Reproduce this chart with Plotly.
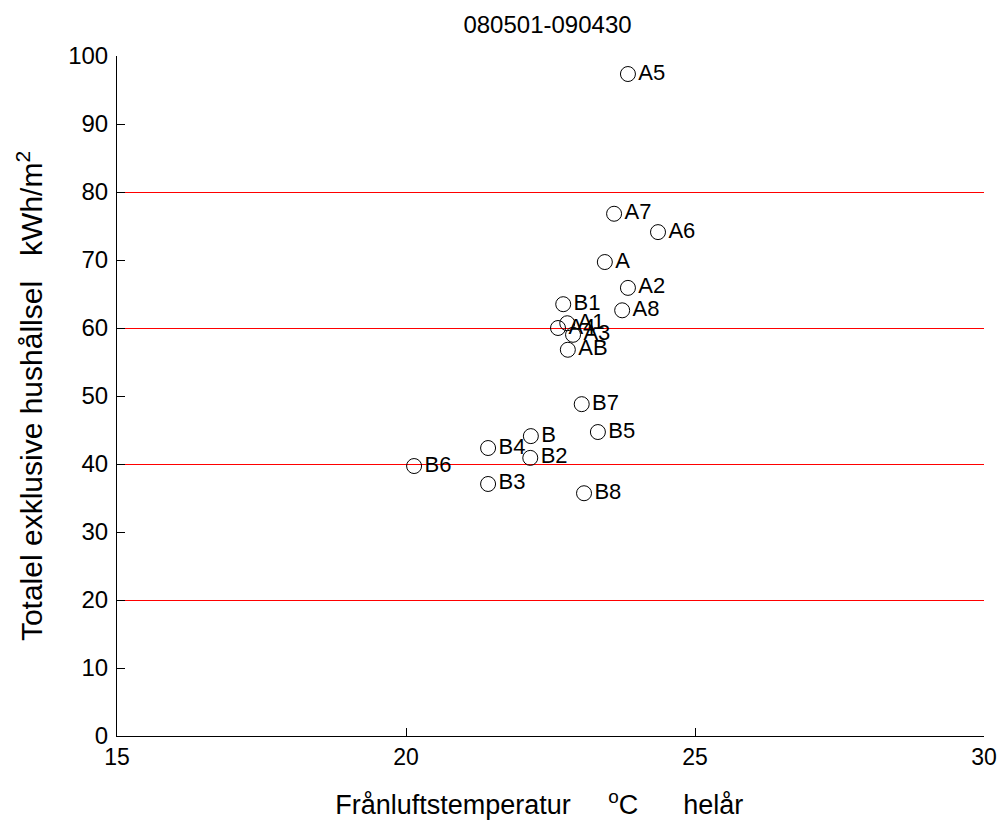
import plotly.graph_objects as go

labels = ["A5", "A7", "A6", "A", "A2", "A8", "B1", "A1", "A4", "A3", "AB",
          "B7", "B5", "B", "B4", "B2", "B6", "B3", "B8"]
temp = [23.84, 23.60, 24.36, 23.44, 23.84, 23.74, 22.72, 22.79, 22.63, 22.89, 22.80,
        23.04, 23.32, 22.16, 21.42, 22.15, 20.14, 21.42, 23.08]
energy = [97.35, 76.8, 74.1, 69.7, 65.9, 62.6, 63.5, 60.7, 60.0, 59.0, 56.8,
          48.8, 44.7, 44.1, 42.35, 40.9, 39.7, 37.06, 35.7]
red_levels = [20, 40, 60, 80]
x_range = [15, 30]
y_range = [0, 100]
x_ticks = [15, 20, 25, 30]
y_ticks = list(range(0, 101, 10))

FONT = "Liberation Sans, Arial, sans-serif"
SP = "&nbsp;"

fig = go.Figure()
# invisible trace to anchor the red-grid overlay axis
fig.add_trace(go.Scatter(x=[None], y=[None], yaxis="y2", showlegend=False, hoverinfo="skip"))
fig.add_trace(go.Scatter(
    x=temp, y=energy, mode="markers+text", text=labels,
    textposition="middle right",
    textfont=dict(family=FONT, size=22, color="black"),
    marker=dict(symbol="circle-open", size=15, color="black", line=dict(width=1, color="black")),
    showlegend=False, cliponaxis=False,
))

fig.update_layout(
    width=1000, height=820,
    margin=dict(l=117, r=16, t=56, b=84, autoexpand=False),
    paper_bgcolor="white", plot_bgcolor="white",
    font=dict(family=FONT, color="black"),
    title=dict(text="080501-090430", x=0.5475, xanchor="center", y=0.970, yanchor="middle",
               font=dict(size=24, color="black")),
    yaxis2=dict(overlaying="y", range=y_range, tickvals=red_levels, showticklabels=False,
                ticks="", showgrid=True, gridcolor="#ff0000", gridwidth=1, zeroline=False,
                showline=False, automargin=False),
)
fig.update_xaxes(range=x_range, tickvals=x_ticks, showgrid=False, zeroline=False,
                 showline=True, linecolor="black", linewidth=1, ticks="inside", ticklen=8,
                 tickcolor="black", tickfont=dict(size=23), automargin=False,
                 title=dict(text="Frånluftstemperatur" + SP * 5 + "<sup>o</sup>C" + SP * 6 + "helår" + SP * 3,
                            font=dict(size=27), standoff=28))
fig.update_yaxes(selector=dict(overlaying=None), range=y_range, tickvals=y_ticks, showgrid=False, zeroline=False,
                 showline=True, linecolor="black", linewidth=1, ticks="inside", ticklen=8,
                 tickcolor="black", tickfont=dict(size=24), automargin=False, ticklabelstandoff=3,
                 title=dict(text="Totalel exklusive hushållsel" + SP * 3 + "kWh/m<sup>2</sup>",
                            font=dict(size=30), standoff=16))
fig.write_html("out.html")
